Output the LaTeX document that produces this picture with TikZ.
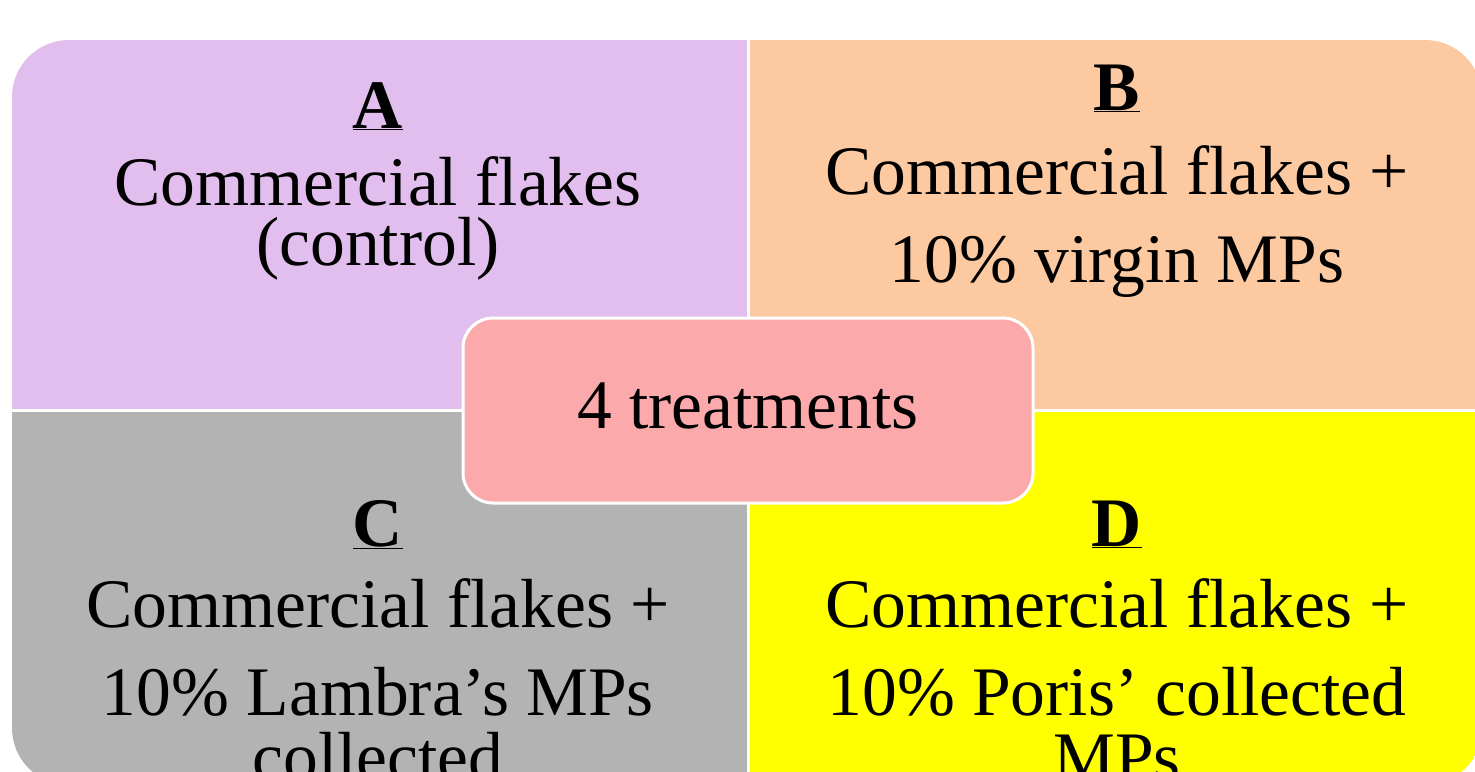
\documentclass[tikz,border=0pt]{standalone}
\usepackage{fontspec}
\setmainfont{Liberation Serif}
\definecolor{qa}{RGB}{225,190,237}
\definecolor{qb}{RGB}{253,201,161}
\definecolor{qc}{RGB}{179,179,179}
\definecolor{qd}{RGB}{255,255,0}
\definecolor{qm}{RGB}{251,169,170}
\begin{document}
\begin{tikzpicture}[x=1pt,y=-1pt,
  txt/.style={anchor=base,font=\fontsize{69.5}{80}\selectfont,inner sep=0pt},
  lbl/.style={anchor=base,font=\fontsize{69.5}{80}\selectfont\bfseries,inner sep=0pt},
  sep/.style={white,line width=3pt},
  midbox/.style={draw=white,line width=3pt,fill=qm,rounded corners=30pt,minimum width=570pt,minimum height=185pt,inner sep=0pt}]
\useasboundingbox (0,0) rectangle (1475,771);
\begin{scope}
\clip[rounded corners=57pt] (12,40) rectangle (1482,785);
\fill[qa] (12,40) rectangle (748,410);
\fill[qb] (748,40) rectangle (1482,410);
\fill[qc] (12,410) rectangle (748,785);
\fill[qd] (748,410) rectangle (1482,785);
\draw[sep] (748,0) -- (748,800);
\draw[sep] (0,410) -- (1500,410);
\end{scope}
% A
\node[lbl] (la) at (378,128) {\underline{A}};
\node[txt] (a1) at (378,205) {Commercial flakes};
\node[txt] (a2) at (378,265) {(control)};
% B
\node[lbl] (lb) at (1117,110) {\underline{B}};
\node[txt] (b1) at (1117,194) {Commercial flakes +};
\node[txt] (b2) at (1117,282) {10\% virgin MPs};
% C
\node[lbl] (lc) at (378,546) {\underline{C}};
\node[txt] (c1) at (378,627) {Commercial flakes +};
\node[txt] (c2) at (378,715) {10\% Lambra’s MPs};
\node[txt] (c3) at (378,780) {collected};
% D
\node[lbl] (ld) at (1117,546) {\underline{D}};
\node[txt] (d1) at (1117,627) {Commercial flakes +};
\node[txt] (d2) at (1117,715) {10\% Poris’ collected};
\node[txt] (d3) at (1117,780) {MPs};
% centre
\node[midbox] (mid) at (748,410.5) {};
\node[txt] (midt) at (748,428) {4 treatments};
\end{tikzpicture}
\end{document}
